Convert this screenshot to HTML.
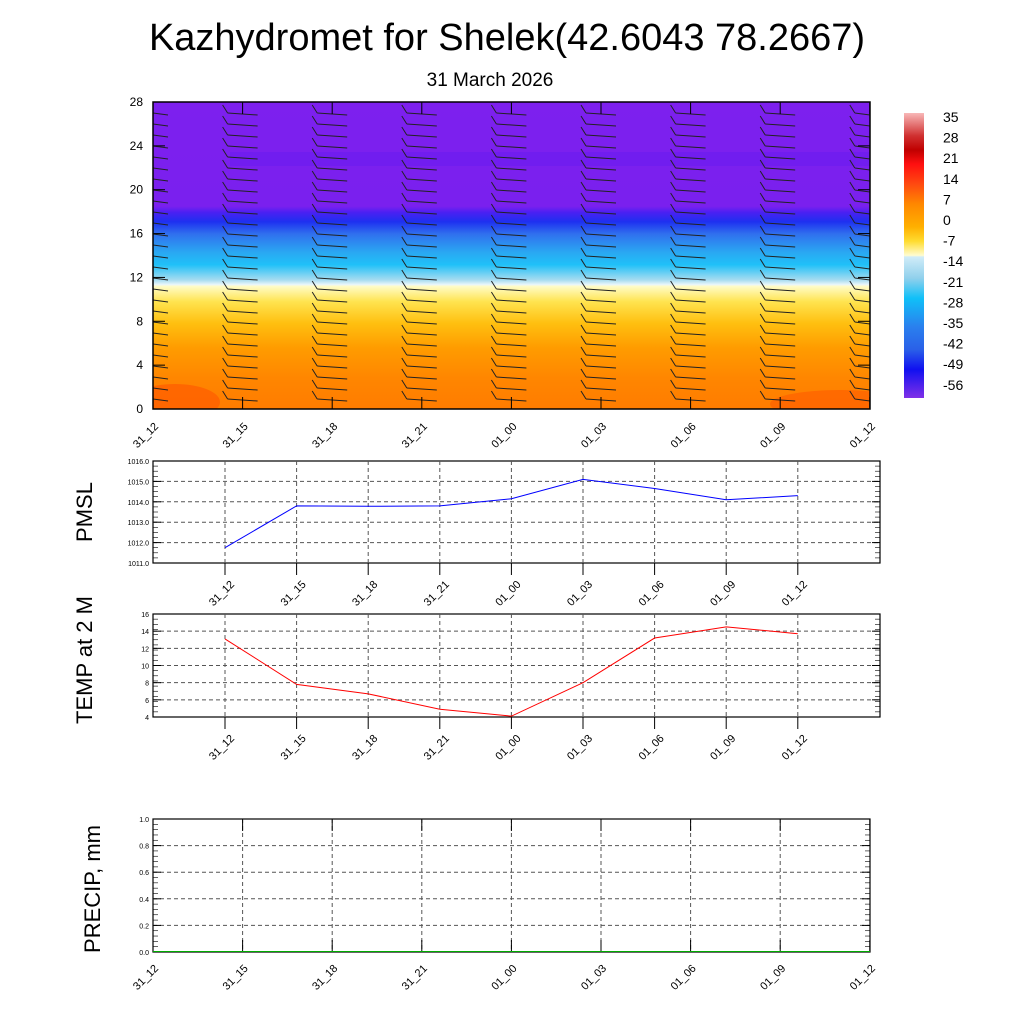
<!DOCTYPE html>
<html><head><meta charset="utf-8"><style>
html,body{margin:0;padding:0;background:#fff;}
svg{display:block;font-family:"Liberation Sans",Arial,sans-serif;}
</style></head><body>
<svg id="s" width="1024" height="1024" viewBox="0 0 1024 1024" xmlns="http://www.w3.org/2000/svg">
<defs>
<linearGradient id="tg" x1="0" y1="102" x2="0" y2="409" gradientUnits="userSpaceOnUse">
<stop offset="0" stop-color="#7d20ee"/>
<stop offset="0.34" stop-color="#7a20ee"/>
<stop offset="0.36" stop-color="#4a20f2"/>
<stop offset="0.39" stop-color="#1e30f0"/>
<stop offset="0.43" stop-color="#3070ee"/>
<stop offset="0.49" stop-color="#2aa8f2"/>
<stop offset="0.53" stop-color="#20c0f8"/>
<stop offset="0.58" stop-color="#a8dcf0"/>
<stop offset="0.595" stop-color="#eaf6fa"/>
<stop offset="0.60" stop-color="#fffcc8"/>
<stop offset="0.65" stop-color="#ffe450"/>
<stop offset="0.72" stop-color="#ffc010"/>
<stop offset="0.80" stop-color="#ff9c00"/>
<stop offset="0.90" stop-color="#ff8600"/>
<stop offset="1" stop-color="#ff7c00"/>
</linearGradient>
<linearGradient id="cb" x1="0" y1="113" x2="0" y2="398" gradientUnits="userSpaceOnUse">
<stop offset="0" stop-color="#f8b8b8"/>
<stop offset="0.08" stop-color="#d03030"/>
<stop offset="0.13" stop-color="#c00000"/>
<stop offset="0.18" stop-color="#ff1010"/>
<stop offset="0.25" stop-color="#ff4a10"/>
<stop offset="0.32" stop-color="#ff8800"/>
<stop offset="0.40" stop-color="#ffb000"/>
<stop offset="0.45" stop-color="#ffdc30"/>
<stop offset="0.50" stop-color="#fffcd0"/>
<stop offset="0.505" stop-color="#d0ecf8"/>
<stop offset="0.58" stop-color="#90d0ec"/>
<stop offset="0.65" stop-color="#10c0f8"/>
<stop offset="0.75" stop-color="#2a80ee"/>
<stop offset="0.83" stop-color="#2a60e8"/>
<stop offset="0.90" stop-color="#1010f0"/>
<stop offset="1" stop-color="#8030e8"/>
</linearGradient>
<clipPath id="cp"><rect x="153" y="102" width="717" height="307"/></clipPath>
</defs>
<text x="507" y="50" font-size="38" text-anchor="middle">Kazhydromet for Shelek(42.6043 78.2667)</text>
<text x="490" y="86" font-size="19" text-anchor="middle">31 March 2026</text>
<g clip-path="url(#cp)">
<rect x="153" y="102" width="717" height="307" fill="url(#tg)"/>
<ellipse cx="175" cy="402" rx="45" ry="18" fill="#ff6000" opacity="0.8"/>
<ellipse cx="840" cy="404" rx="70" ry="14" fill="#ff6400" opacity="0.8"/>
<rect x="230" y="152" width="640" height="14" fill="#6a1cf0" opacity="0.6"/>
</g>
<g id="barbs" stroke="#222" stroke-width="1" fill="none"></g>
<rect x="153" y="102" width="717" height="307" fill="none" stroke="#000" stroke-width="1.5"/>
<g id="topg" font-size="12"></g>
<rect x="904" y="113" width="20" height="285" fill="url(#cb)"/>
<g id="cbl" font-size="14"></g>
<g id="p1"></g>
</svg>
<script>
(function(){
var NS="http://www.w3.org/2000/svg";
function el(p,t,a,txt){var e=document.createElementNS(NS,t);for(var k in a)e.setAttribute(k,a[k]);if(txt!==undefined)e.textContent=txt;p.appendChild(e);return e;}
var lab=["31_12","31_15","31_18","31_21","01_00","01_03","01_06","01_09","01_12"];
var tg=document.getElementById('topg'),b=document.getElementById('barbs');
for(var i=0;i<9;i++){var x=153+i*89.6;
 el(tg,'text',{x:x+6,y:427,'font-size':11,'text-anchor':'end',transform:'rotate(-45 '+(x+6)+' 427)'},lab[i]);
 el(tg,'line',{x1:x,y1:409,x2:x,y2:397,stroke:'#000'});el(tg,'line',{x1:x,y1:102,x2:x,y2:114,stroke:'#000'});
 for(var y=113;y<=400;y+=11){var x1=Math.max(x-15,153),x2=Math.min(x+15,870);el(b,'line',{x1:x1,y1:y,x2:x2,y2:y+2});if(x-20>150)el(b,'line',{x1:x-15,y1:y,x2:x-20,y2:y-8});}
}
for(var v=0;v<=28;v+=4){var y=409-v*307/28;el(tg,'text',{x:143,y:y+4,'text-anchor':'end'},v);
 el(tg,'line',{x1:153,y1:y,x2:165,y2:y,stroke:'#000'});el(tg,'line',{x1:870,y1:y,x2:858,y2:y,stroke:'#000'});}
var cl=[35,28,21,14,7,0,-7,-14,-21,-28,-35,-42,-49,-56],cbl=document.getElementById('cbl');
cl.forEach(function(v,i){el(cbl,'text',{x:943,y:122+i*20.6},v);});
var p=document.getElementById('p1');
function lp(y0,y1,vmin,vmax,step,fmt,vals,col,title,ty,fs){
 var h=y1-y0,X0=153,X1=880;
 el(p,'rect',{x:X0,y:y0,width:X1-X0,height:h,fill:'none',stroke:'#000','stroke-width':1.2});
 for(var v=vmin;v<=vmax+1e-9;v+=step){var y=y1-(v-vmin)/(vmax-vmin)*h;
  if(v>vmin&&v<vmax)el(p,'line',{x1:X0,y1:y,x2:X1,y2:y,stroke:'#555','stroke-dasharray':'4,3'});
  el(p,'text',{x:X0-4,y:y+3,'font-size':7,'text-anchor':'end'},fmt(v));
  el(p,'line',{x1:X0,y1:y,x2:X0+8,y2:y,stroke:'#000'});el(p,'line',{x1:X1,y1:y,x2:X1-8,y2:y,stroke:'#000'});}
 for(var k=0;k<=20;k++){var y=y0+k*h/20;el(p,'line',{x1:X0,y1:y,x2:X0+5,y2:y,stroke:'#000','stroke-width':0.6});el(p,'line',{x1:X1,y1:y,x2:X1-5,y2:y,stroke:'#000','stroke-width':0.6});}
 var pts=[];
 for(var i=0;i<9;i++){var x=225+i*71.6;
  el(p,'line',{x1:x,y1:y0,x2:x,y2:y1,stroke:'#555','stroke-dasharray':'4,3'});
  el(p,'line',{x1:x,y1:y1,x2:x,y2:y1+12,stroke:'#000'});
  el(p,'text',{x:x+10,y:y1+22,'font-size':11,'text-anchor':'end',transform:'rotate(-45 '+(x+10)+' '+(y1+22)+')'},lab[i]);
  pts.push(x+','+(y1-(vals[i]-vmin)/(vmax-vmin)*h));}
 el(p,'polyline',{points:pts.join(' '),fill:'none',stroke:col,'stroke-width':1});
 el(p,'text',{x:0,y:0,'font-size':fs,'text-anchor':'middle',transform:'translate(92 '+ty+') rotate(-90)'},title);
}
lp(461,563,1011,1016,1,function(v){return v.toFixed(1)},[1011.75,1013.8,1013.78,1013.8,1014.15,1015.1,1014.65,1014.1,1014.3],'#00f','PMSL',512,22);
lp(614,717,4,16,2,function(v){return v},[13.1,7.8,6.7,4.9,4.1,8.0,13.2,14.5,13.7],'#f00','TEMP at 2 M',660,22);
var y0=819,y1=952,X0=153,X1=870,h=y1-y0;
el(p,'rect',{x:X0,y:y0,width:X1-X0,height:h,fill:'none',stroke:'#000','stroke-width':1.2});
for(var k=0;k<=5;k++){var v=k*0.2,y=y1-v*h;
 if(k>0&&k<5)el(p,'line',{x1:X0,y1:y,x2:X1,y2:y,stroke:'#555','stroke-dasharray':'4,3'});
 el(p,'text',{x:X0-4,y:y+3,'font-size':7,'text-anchor':'end'},v.toFixed(1));
 el(p,'line',{x1:X0,y1:y,x2:X0+8,y2:y,stroke:'#000'});el(p,'line',{x1:X1,y1:y,x2:X1-8,y2:y,stroke:'#000'});}
for(var k=0;k<=25;k++){var y=y0+k*h/25;el(p,'line',{x1:X0,y1:y,x2:X0+5,y2:y,stroke:'#000','stroke-width':0.6});el(p,'line',{x1:X1,y1:y,x2:X1-5,y2:y,stroke:'#000','stroke-width':0.6});}
for(var i=0;i<9;i++){var x=153+i*89.6;
 if(i>0&&i<8)el(p,'line',{x1:x,y1:y0,x2:x,y2:y1,stroke:'#555','stroke-dasharray':'4,3'});
 el(p,'line',{x1:x,y1:y1,x2:x,y2:y1-12,stroke:'#000'});el(p,'line',{x1:x,y1:y0,x2:x,y2:y0+12,stroke:'#000'});
 el(p,'text',{x:x+6,y:y1+17,'font-size':11,'text-anchor':'end',transform:'rotate(-45 '+(x+6)+' '+(y1+17)+')'},lab[i]);}
el(p,'line',{x1:X0,y1:y1-0.5,x2:X1,y2:y1-0.5,stroke:'#0a0','stroke-width':1});
el(p,'text',{x:0,y:0,'font-size':22,'text-anchor':'middle',transform:'translate(100 889) rotate(-90)'},'PRECIP, mm');
})();
</script>
</body></html>
